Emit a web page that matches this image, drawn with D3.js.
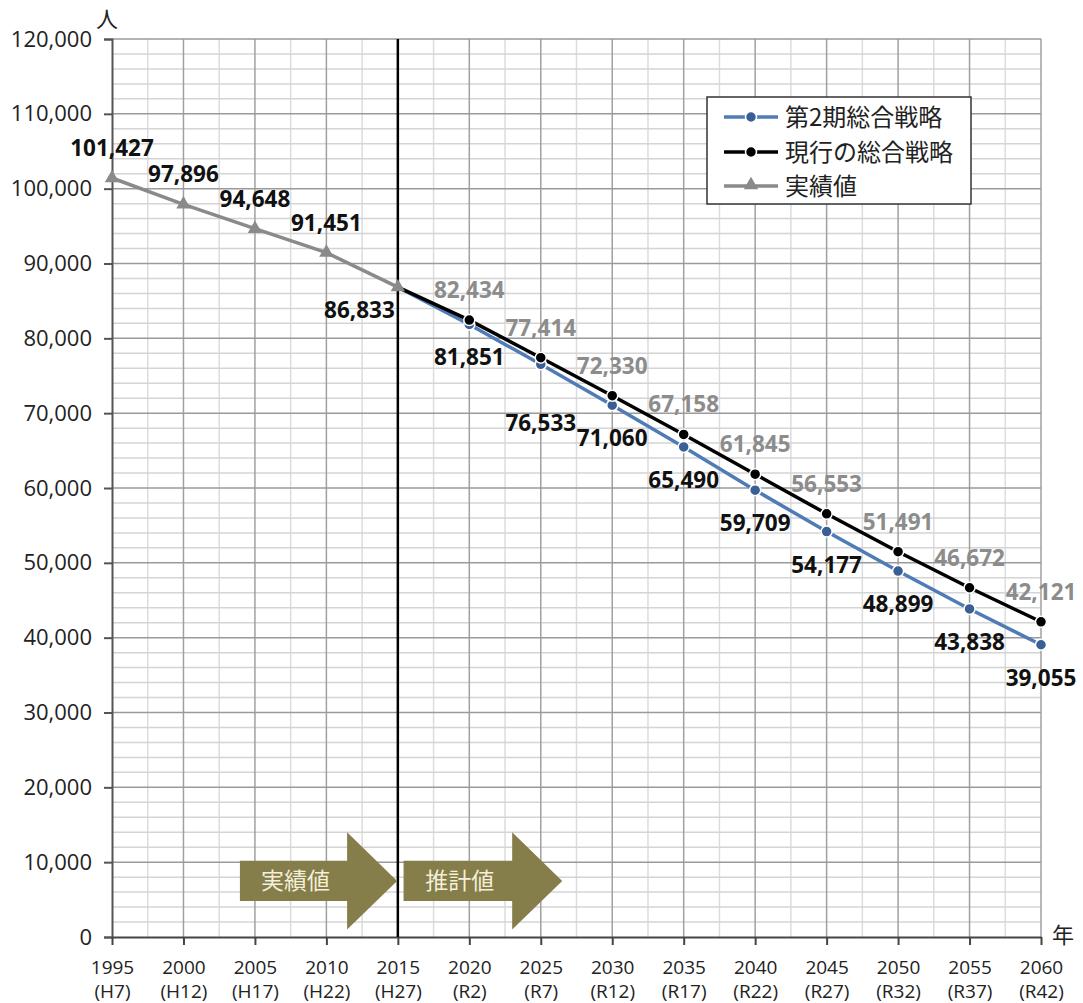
<!DOCTYPE html>
<html><head><meta charset="utf-8">
<script src="https://cdn.jsdelivr.net/npm/d3@7"></script>
<style>
html,body{margin:0;padding:0;background:#fff;}
svg{display:block;}
</style></head>
<body>
<svg id="chart" width="1083" height="1003"></svg>
<script>
// ---- data ----
const actualYears = [1995, 2000, 2005, 2010, 2015];
const actualValues = [101427, 97896, 94648, 91451, 86833];
const projYears = [2015, 2020, 2025, 2030, 2035, 2040, 2045, 2050, 2055, 2060];
const currentValues = [86833, 82434, 77414, 72330, 67158, 61845, 56553, 51491, 46672, 42121];
const secondValues = [86833, 81851, 76533, 71060, 65490, 59709, 54177, 48899, 43838, 39055];
const xTickYears = [1995, 2000, 2005, 2010, 2015, 2020, 2025, 2030, 2035, 2040, 2045, 2050, 2055, 2060];
const xTickEra = ["(H7)", "(H12)", "(H17)", "(H22)", "(H27)", "(R2)", "(R7)", "(R12)", "(R17)", "(R22)", "(R27)", "(R32)", "(R37)", "(R42)"];
const yTicks = [0, 10000, 20000, 30000, 40000, 50000, 60000, 70000, 80000, 90000, 100000, 110000, 120000];
const seriesNames = ["第2期総合戦略", "現行の総合戦略", "実績値"];
const arrowLabels = ["実績値", "推計値"];

// ---- layout ----
const svg = d3.select("#chart");
const x = d3.scaleLinear().domain([1995, 2060]).range([112, 1041]);
const y = d3.scaleLinear().domain([0, 120000]).range([937, 39]);
const fmt = d3.format(",");
const NUM_FONT = "Open Sans, Lato, sans-serif";
const JP_FONT = "'Noto Sans CJK JP', sans-serif";

// grid
const g = svg.append("g");
const minorX = d3.range(1995, 2060.01, 2.5).filter(v => v % 5 !== 0);
const minorY = d3.range(0, 120001, 2000).filter(v => v % 10000 !== 0);
g.selectAll(".mx").data(minorX).join("line")
  .attr("x1", d => x(d)).attr("x2", d => x(d)).attr("y1", y(120000)).attr("y2", y(0))
  .attr("stroke", "#dcdcdc").attr("stroke-width", 1.5);
g.selectAll(".my").data(minorY).join("line")
  .attr("x1", x(1995)).attr("x2", x(2060)).attr("y1", d => y(d)).attr("y2", d => y(d))
  .attr("stroke", "#d4d4d4").attr("stroke-width", 1.5);
g.selectAll(".Mx").data(xTickYears.slice(1)).join("line")
  .attr("x1", d => x(d)).attr("x2", d => x(d)).attr("y1", y(120000)).attr("y2", y(0))
  .attr("stroke", "#a0a0a0").attr("stroke-width", 1.5);
g.selectAll(".My").data(yTicks.slice(1)).join("line")
  .attr("x1", x(1995)).attr("x2", x(2060)).attr("y1", d => y(d)).attr("y2", d => y(d))
  .attr("stroke", "#9a9a9a").attr("stroke-width", 1.5);

// axes
const yAxis = svg.append("g").attr("transform", `translate(${x(1995)},0)`)
  .call(d3.axisLeft(y).tickValues(yTicks).tickFormat(fmt).tickSize(8).tickPadding(12));
yAxis.select(".domain").attr("stroke", "#555").attr("stroke-width", 2);
yAxis.selectAll(".tick line").attr("stroke", "#555").attr("stroke-width", 2);
yAxis.selectAll("text").attr("font-family", NUM_FONT).attr("font-size", 22).attr("fill", "#222");

const xAxis = svg.append("g").attr("transform", `translate(0,${y(0)})`)
  .call(d3.axisBottom(x).tickValues(xTickYears).tickFormat(d => d).tickSize(8).tickSizeOuter(0));
xAxis.select(".domain").attr("stroke", "#444").attr("stroke-width", 2);
xAxis.selectAll(".tick line").attr("stroke", "#444").attr("stroke-width", 2);
xAxis.selectAll(".tick text").remove();
xAxis.selectAll(".tick").each(function(d, i) {
  const t = d3.select(this).append("text").attr("fill", "#222").attr("text-anchor", "middle")
    .attr("font-family", NUM_FONT).attr("font-size", 19);
  t.append("tspan").attr("x", 0).attr("y", 37).text(d);
  t.append("tspan").attr("x", 0).attr("y", 61).text(xTickEra[i]);
});

// unit labels
svg.append("text").attr("x", 107).attr("y", 27).attr("text-anchor", "middle")
  .attr("font-family", JP_FONT).attr("font-size", 22).attr("fill", "#222").text("人");
svg.append("text").attr("x", 1063).attr("y", 943).attr("text-anchor", "middle")
  .attr("font-family", JP_FONT).attr("font-size", 22).attr("fill", "#222").text("年");

// divider at 2015
svg.append("line").attr("x1", x(2015)).attr("x2", x(2015)).attr("y1", y(120000)).attr("y2", y(0))
  .attr("stroke", "#000").attr("stroke-width", 2.5);

// arrows
const arrowColor = "#857d4a";
const arrowSpans = [[2003.95, 2014.95], [2015.4, 2026.5]];
const arrowMid = 7500, bodyHalf = 2700, headHalf = 6500, headLen = 3.5;
const arrowLine = d3.line().x(d => x(d[0])).y(d => y(d[1]));
arrowSpans.forEach((s, i) => {
  const [a, b] = s, h = b - headLen;
  const pts = [[a, arrowMid + bodyHalf], [h, arrowMid + bodyHalf], [h, arrowMid + headHalf], [b, arrowMid],
               [h, arrowMid - headHalf], [h, arrowMid - bodyHalf], [a, arrowMid - bodyHalf]];
  svg.append("path").attr("d", arrowLine(pts) + "Z").attr("fill", arrowColor);
  svg.append("text").attr("x", (x(a) + x(h)) / 2 + 2).attr("y", y(arrowMid) + 8)
    .attr("text-anchor", "middle").attr("font-family", JP_FONT).attr("font-size", 23)
    .attr("fill", "#f3efd8").text(arrowLabels[i]);
});

// lines
const blue = "#4f7bb7", blueMarker = "#3a5f95", gray = "#8a8a8a";
const line = d3.line().x(d => x(d[0])).y(d => y(d[1]));
const actual = actualYears.map((d, i) => [d, actualValues[i]]);
const current = projYears.map((d, i) => [d, currentValues[i]]);
const second = projYears.map((d, i) => [d, secondValues[i]]);

svg.append("path").attr("d", line(second)).attr("fill", "none").attr("stroke", blue).attr("stroke-width", 3.5);
svg.append("path").attr("d", line(current)).attr("fill", "none").attr("stroke", "#000").attr("stroke-width", 3.5);
svg.append("path").attr("d", line(actual)).attr("fill", "none").attr("stroke", gray).attr("stroke-width", 3.5);

svg.selectAll(".bm").data(second.slice(1)).join("circle")
  .attr("cx", d => x(d[0])).attr("cy", d => y(d[1])).attr("r", 5.5)
  .attr("fill", blueMarker).attr("stroke", "#fff").attr("stroke-width", 1.5);
svg.selectAll(".km").data(current.slice(1)).join("circle")
  .attr("cx", d => x(d[0])).attr("cy", d => y(d[1])).attr("r", 5.5)
  .attr("fill", "#000").attr("stroke", "#fff").attr("stroke-width", 1.5);
const tri = d3.symbol().type(d3.symbolTriangle).size(90);
svg.selectAll(".tm").data(actual).join("path")
  .attr("d", tri).attr("transform", d => `translate(${x(d[0])},${y(d[1])})`)
  .attr("fill", gray);

// data labels
const lblFont = 22.5;
// actual: above, last one to lower-left
svg.selectAll(".al").data(actual).join("text")
  .attr("x", (d, i) => i === actual.length - 1 ? x(d[0]) - 3 : x(d[0]))
  .attr("y", (d, i) => i === actual.length - 1 ? y(d[1]) + 31 : y(d[1]) - 22)
  .attr("text-anchor", (d, i) => i === actual.length - 1 ? "end" : "middle")
  .attr("font-family", NUM_FONT).attr("font-weight", "bold").attr("font-size", lblFont)
  .attr("fill", "#111").text(d => fmt(d[1]));
svg.selectAll(".cl").data(current.slice(1)).join("text")
  .attr("x", d => x(d[0])).attr("y", d => y(d[1]) - 22)
  .attr("text-anchor", "middle")
  .attr("font-family", NUM_FONT).attr("font-weight", "bold").attr("font-size", lblFont)
  .attr("fill", "#8c8c8c").text(d => fmt(d[1]));
svg.selectAll(".sl").data(second.slice(1)).join("text")
  .attr("x", d => x(d[0])).attr("y", d => y(d[1]) + (d[0] === 2025 ? 67 : 41))
  .attr("text-anchor", "middle")
  .attr("font-family", NUM_FONT).attr("font-weight", "bold").attr("font-size", lblFont)
  .attr("fill", "#111").text(d => fmt(d[1]));

// legend
const lg = svg.append("g").attr("transform", "translate(707,97)");
lg.append("rect").attr("width", 264).attr("height", 107).attr("fill", "#fff")
  .attr("stroke", "#333").attr("stroke-width", 1.5);
const legendStyles = [
  {stroke: blue, fill: blueMarker, shape: "circle"},
  {stroke: "#000", fill: "#000", shape: "circle"},
  {stroke: gray, fill: gray, shape: "triangle"}
];
const rowsY = [20, 55, 89];
seriesNames.forEach((n, i) => {
  const st = legendStyles[i];
  lg.append("line").attr("x1", 17).attr("x2", 71).attr("y1", rowsY[i]).attr("y2", rowsY[i])
    .attr("stroke", st.stroke).attr("stroke-width", 3.5);
  if (st.shape === "circle") {
    lg.append("circle").attr("cx", 44).attr("cy", rowsY[i]).attr("r", 5.5).attr("fill", st.fill)
      .attr("stroke", "#fff").attr("stroke-width", 1.5);
  } else {
    lg.append("path").attr("d", tri).attr("transform", `translate(44,${rowsY[i] - 1})`).attr("fill", st.fill);
  }
  lg.append("text").attr("x", 78).attr("y", rowsY[i] + 9).attr("font-family", JP_FONT)
    .attr("font-size", 24).attr("fill", "#222").text(n);
});
</script>
</body></html>
